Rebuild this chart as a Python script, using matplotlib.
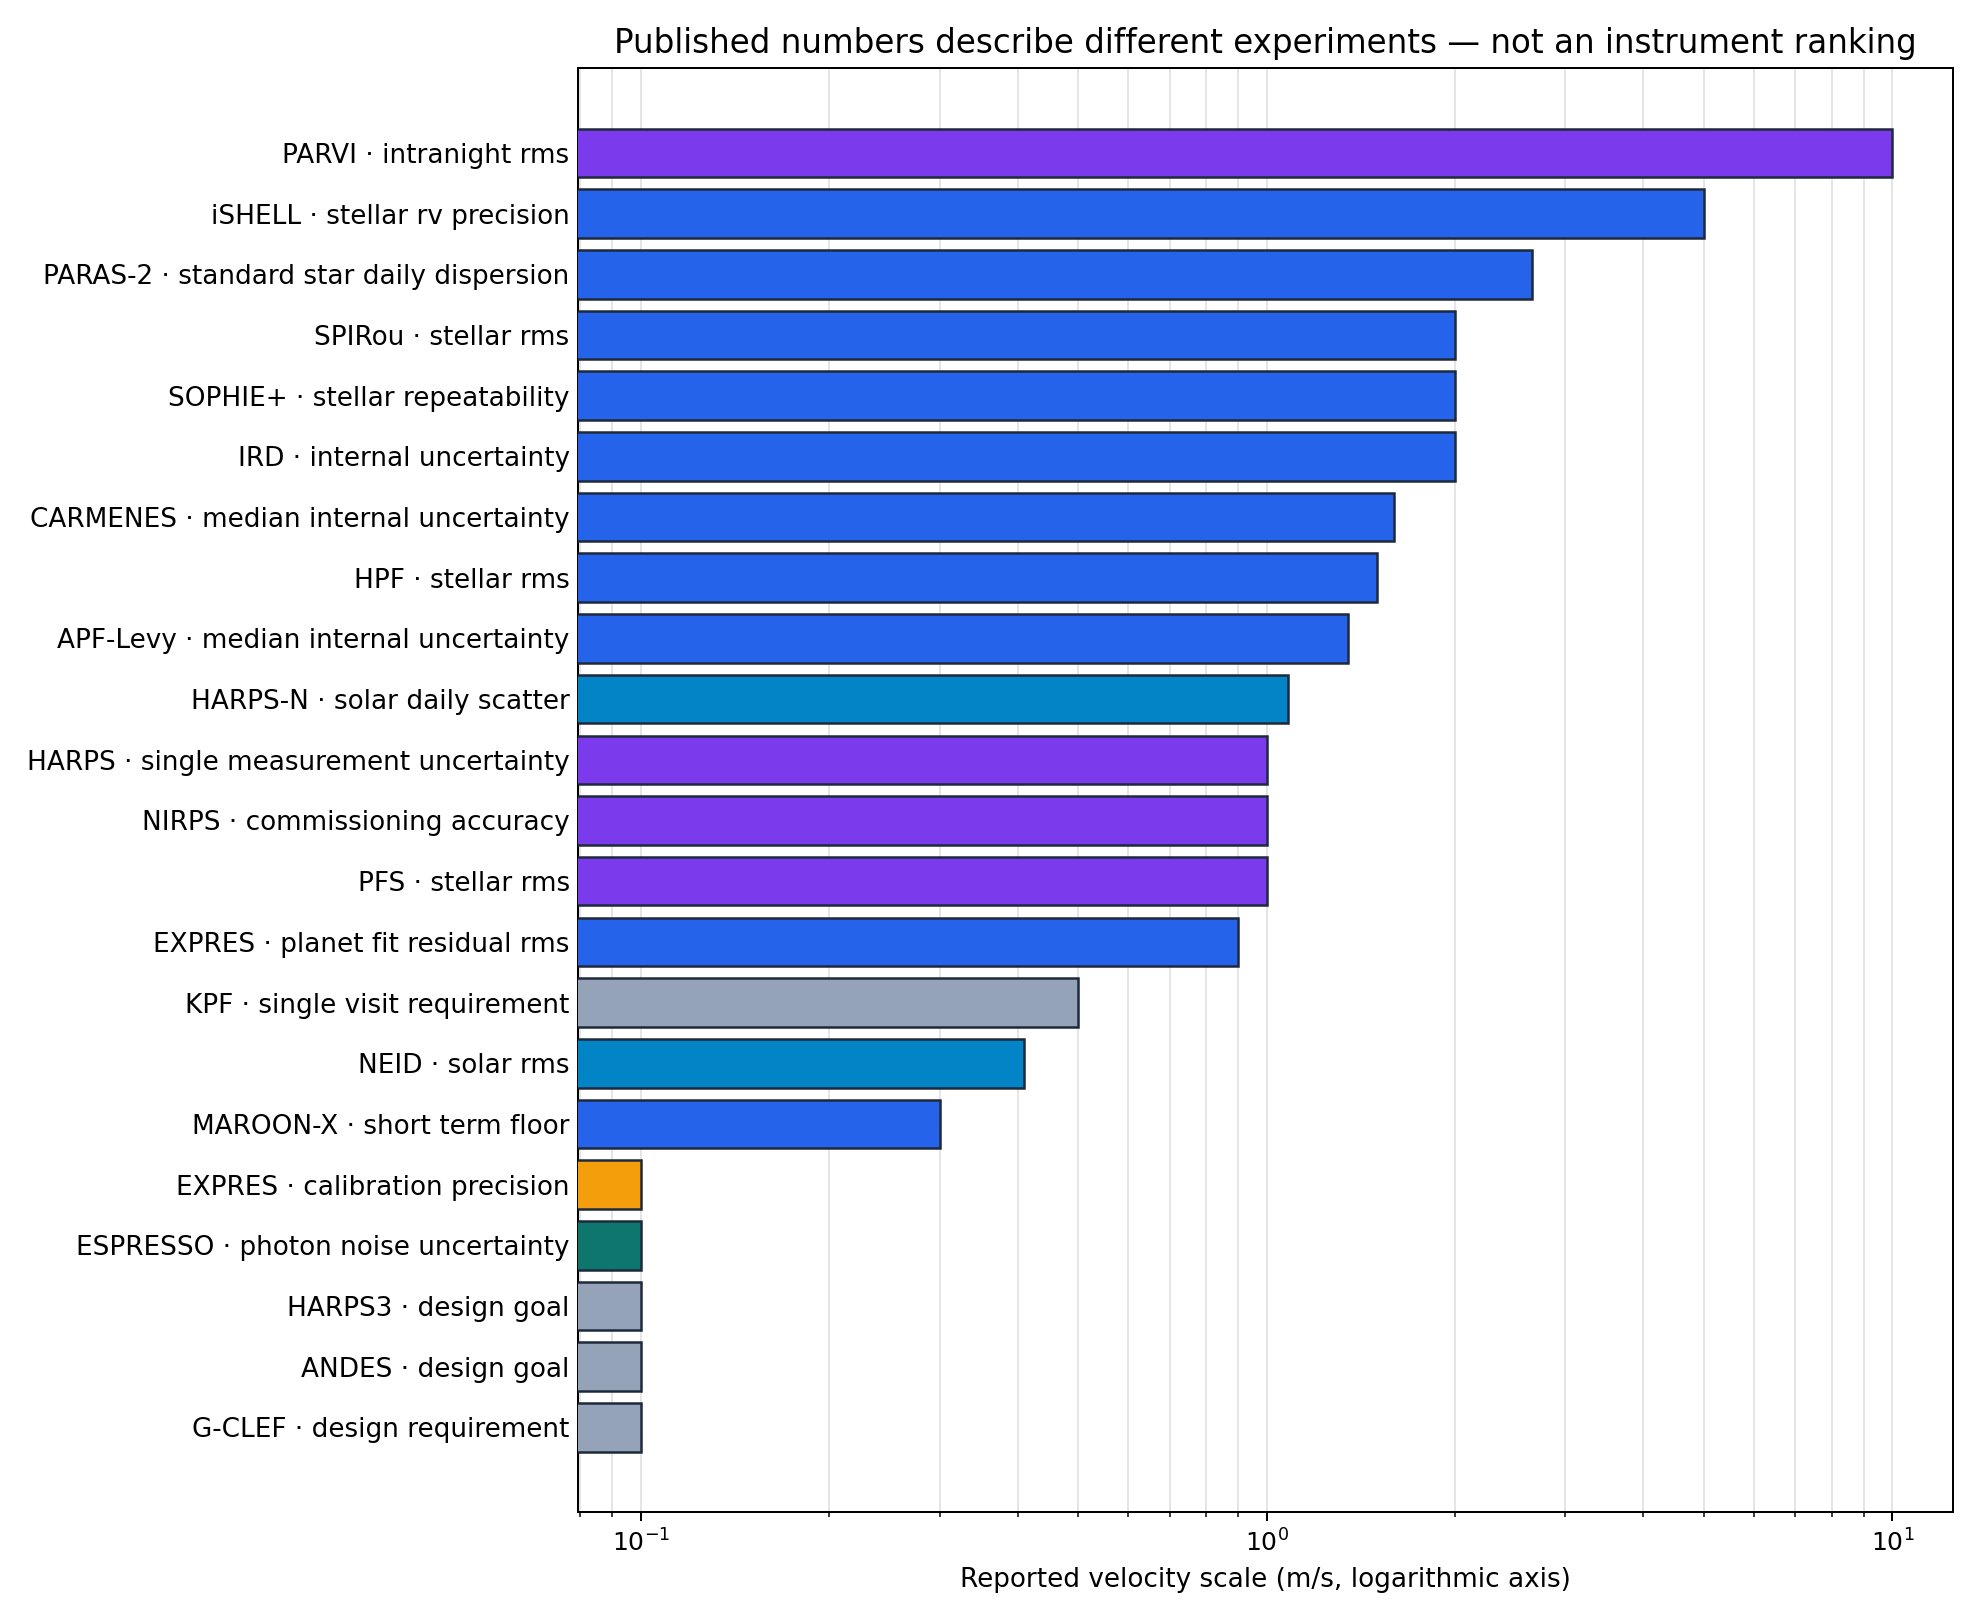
import matplotlib
matplotlib.use("Agg")
import matplotlib.pyplot as plt

labels = ["PARVI · intranight rms", "iSHELL · stellar rv precision", "PARAS-2 · standard star daily dispersion",
          "SPIRou · stellar rms", "SOPHIE+ · stellar repeatability", "IRD · internal uncertainty",
          "CARMENES · median internal uncertainty", "HPF · stellar rms", "APF-Levy · median internal uncertainty",
          "HARPS-N · solar daily scatter", "HARPS · single measurement uncertainty", "NIRPS · commissioning accuracy",
          "PFS · stellar rms", "EXPRES · planet fit residual rms", "KPF · single visit requirement",
          "NEID · solar rms", "MAROON-X · short term floor", "EXPRES · calibration precision",
          "ESPRESSO · photon noise uncertainty", "HARPS3 · design goal", "ANDES · design goal",
          "G-CLEF · design requirement"]
values = [10, 5, 2.65, 2, 2, 2, 1.6, 1.5, 1.35, 1.08, 1, 1, 1, 0.9, 0.5, 0.41, 0.3, 0.1, 0.1, 0.1, 0.1, 0.1]
kinds = ["p", "b", "b", "b", "b", "b", "b", "b", "b", "c", "p", "p", "p", "b", "g", "c", "b", "o", "t", "g", "g", "g"]
cmap = {"p": "#7c3aed", "b": "#2563eb", "c": "#0284c7", "g": "#94a3b8", "o": "#f59e0b", "t": "#0f766e"}

fig, ax = plt.subplots(figsize=(11, 9), dpi=180)
y = list(range(len(labels)))
ax.barh(y, values, left=0, color=[cmap[k] for k in kinds], edgecolor="#1e293b", linewidth=1.0, height=0.8, zorder=3)
ax.set_xscale("log")
ax.set_xlim(0.0794, 12.5)
ax.set_yticks(y)
ax.set_yticklabels(labels, fontsize=10.5)
ax.invert_yaxis()
ax.set_ylim(len(labels) + 0.4, -1.4)
ax.tick_params(axis="y", length=0)
ax.grid(True, axis="x", which="both", color="#e5e5e5", linewidth=0.8, zorder=0)
ax.set_xlabel("Reported velocity scale (m/s, logarithmic axis)", fontsize=10.5)
ax.set_title("Published numbers describe different experiments — not an instrument ranking", fontsize=13)
plt.tight_layout()
fig.savefig("out.png", dpi=180)
